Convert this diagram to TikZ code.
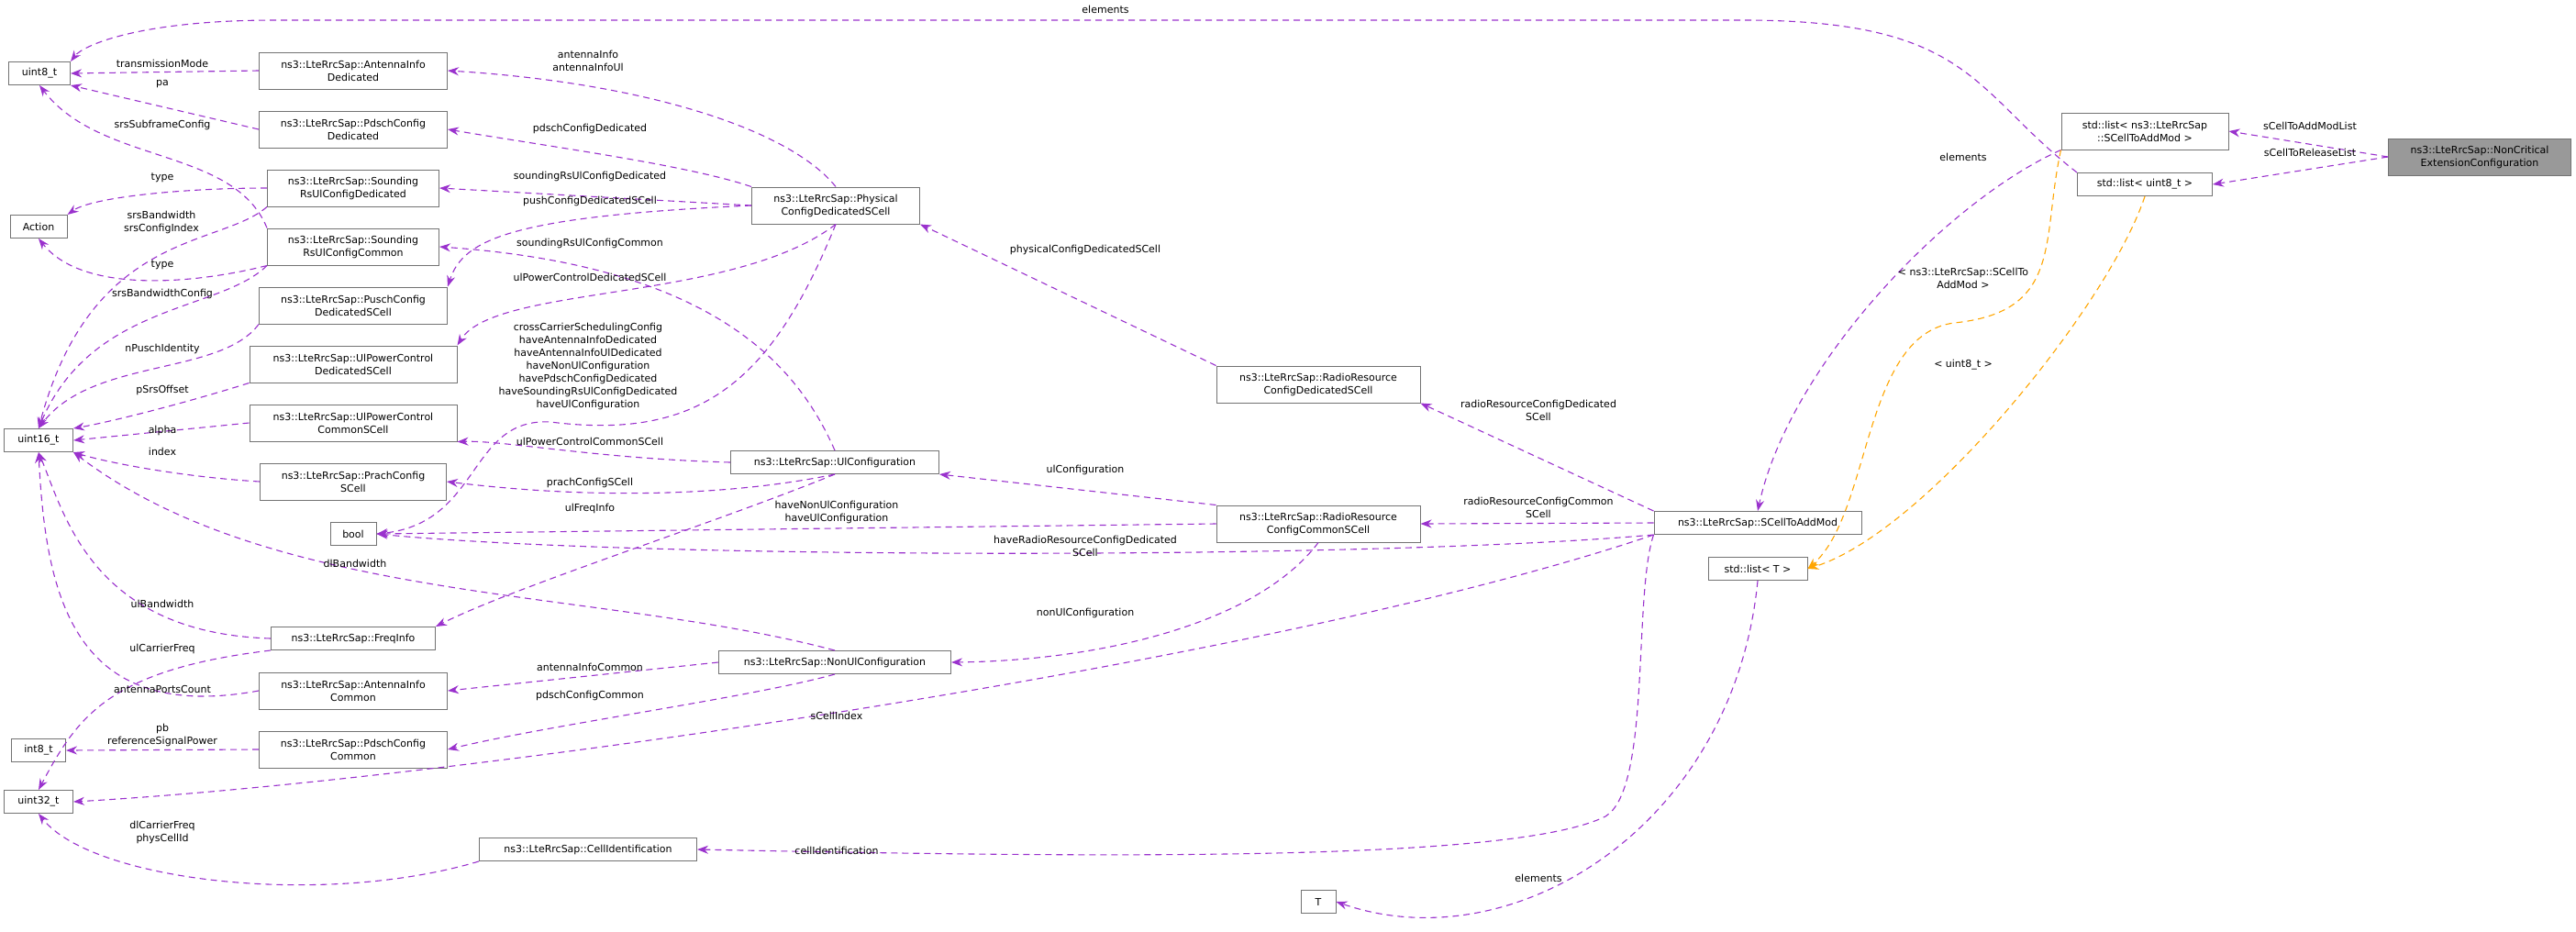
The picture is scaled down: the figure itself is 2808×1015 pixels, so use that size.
\documentclass[tikz,border=0pt]{standalone}
\usepackage{fontspec}
\setmainfont{DejaVu Sans}
\usetikzlibrary{arrows.meta}
\definecolor{ep}{HTML}{9A32CD}
\definecolor{eo}{HTML}{FFA500}
\begin{document}
\begin{tikzpicture}[x=1pt,y=-1pt,
  every node/.style={font=\fontsize{11}{14}\selectfont, inner sep=1pt},
  box/.style={draw=black!55, line width=1pt, fill=white, minimum height=25pt, align=center, inner sep=2pt},
  box2/.style={box, minimum height=40pt},
  e/.style={draw=ep, line width=1.1pt, dash pattern=on 7pt off 5pt, -{Stealth[length=12pt,width=9pt]}},
  eor/.style={e, draw=eo},
  lbl/.style={align=center}]
\useasboundingbox (0,0) rectangle (2808,1015);
% nodes
\node[box, minimum width=67] (u8) at (43,80) {uint8\_t};
\node[box, minimum width=62] (act) at (42,247) {Action};
\node[box, minimum width=75] (u16) at (42,480) {uint16\_t};
\node[box, minimum width=59] (i8) at (42,818) {int8\_t};
\node[box, minimum width=75] (u32) at (42,874) {uint32\_t};
\node[box2, minimum width=205] (aid) at (385,77) {ns3::LteRrcSap::AntennaInfo\\Dedicated};
\node[box2, minimum width=205] (pdd) at (385,141) {ns3::LteRrcSap::PdschConfig\\Dedicated};
\node[box2, minimum width=187] (srd) at (385,205) {ns3::LteRrcSap::Sounding\\RsUlConfigDedicated};
\node[box2, minimum width=187] (src) at (385,269) {ns3::LteRrcSap::Sounding\\RsUlConfigCommon};
\node[box2, minimum width=205] (pud) at (385,333) {ns3::LteRrcSap::PuschConfig\\DedicatedSCell};
\node[box2, minimum width=226] (upd) at (385,397) {ns3::LteRrcSap::UlPowerControl\\DedicatedSCell};
\node[box2, minimum width=226] (upc) at (385,461) {ns3::LteRrcSap::UlPowerControl\\CommonSCell};
\node[box2, minimum width=203] (pra) at (385,525) {ns3::LteRrcSap::PrachConfig\\SCell};
\node[box, minimum width=50] (bool) at (385,582) {bool};
\node[box, minimum width=179] (fi) at (385,696) {ns3::LteRrcSap::FreqInfo};
\node[box2, minimum width=205] (aic) at (385,753) {ns3::LteRrcSap::AntennaInfo\\Common};
\node[box2, minimum width=205] (pdc) at (385,817) {ns3::LteRrcSap::PdschConfig\\Common};
\node[box, minimum width=237] (ci) at (641,926) {ns3::LteRrcSap::CellIdentification};
\node[box2, minimum width=183] (phy) at (911,224) {ns3::LteRrcSap::Physical\\ConfigDedicatedSCell};
\node[box, minimum width=227] (ulc) at (910,504) {ns3::LteRrcSap::UlConfiguration};
\node[box, minimum width=253] (nul) at (910,722) {ns3::LteRrcSap::NonUlConfiguration};
\node[box2, minimum width=222] (rrd) at (1437,419) {ns3::LteRrcSap::RadioResource\\ConfigDedicatedSCell};
\node[box2, minimum width=222] (rrc) at (1437,571) {ns3::LteRrcSap::RadioResource\\ConfigCommonSCell};
\node[box, minimum width=226] (sc) at (1916,570) {ns3::LteRrcSap::SCellToAddMod};
\node[box, minimum width=108] (lt) at (1916,620) {std::list< T >};
\node[box, minimum width=38] (t) at (1437,983) {T};
\node[box2, minimum width=182] (lsc) at (2338,143) {std::list< ns3::LteRrcSap\\::SCellToAddMod >};
\node[box, minimum width=147] (lu8) at (2338,201) {std::list< uint8\_t >};
\node[box2, minimum width=199, fill=black!40] (nc) at (2703,171) {ns3::LteRrcSap::NonCritical\\ExtensionConfiguration};
% edges
\draw[e] (phy.north) .. controls (860,140) and (700,90) .. (aid.east);
\draw[e] (phy.north west) .. controls (750,180) and (600,160) .. (pdd.east);
\draw[e] (phy.west) -- (srd.east);
\draw[e] (phy.west) .. controls (560,236) and (505,260) .. (pud.north east);
\draw[e] (phy.south) .. controls (800,330) and (540,310) .. (upd.north east);
\draw[e] (phy.south) .. controls (840,420) and (760,480) .. (600,460) .. controls (510,455) and (525,570) .. (bool.east);
\draw[e] (ulc.north) .. controls (870,400) and (780,290) .. (src.east);
\draw[e] (ulc.west) .. controls (650,500) and (550,480) .. (upc.south east);
\draw[e] (ulc.south) .. controls (800,540) and (650,545) .. (pra.east);
\draw[e] (ulc.south) .. controls (780,570) and (560,640) .. (fi.north east);
\draw[e] (aid.west) -- (u8.east);
\draw[e] (pdd.west) -- (u8.south east);
\draw[e] (src.north west) .. controls (255,160) and (110,180) .. (u8.south);
\draw[e] (srd.west) .. controls (200,205) and (100,215) .. (act.north east);
\draw[e] (srd.south west) .. controls (240,270) and (100,250) .. (u16.north);
\draw[e] (src.south west) .. controls (210,310) and (90,320) .. (act.south);
\draw[e] (src.south west) .. controls (240,340) and (100,330) .. (u16.north);
\draw[e] (pud.south west) .. controls (240,410) and (100,390) .. (u16.north);
\draw[e] (upd.south west) .. controls (200,440) and (120,460) .. (u16.north east);
\draw[e] (upc.west) -- (u16.east);
\draw[e] (pra.west) .. controls (200,520) and (120,505) .. (u16.south east);
\draw[e] (nul.north) .. controls (650,640) and (300,660) .. (u16.south east);
\draw[e] (fi.west) .. controls (100,690) and (70,560) .. (u16.south);
\draw[e] (fi.south west) .. controls (120,730) and (85,780) .. (u32.north);
\draw[e] (aic.west) .. controls (80,790) and (50,650) .. (u16.south);
\draw[e] (pdc.west) -- (i8.east);
\draw[e] (ci.south west) .. controls (350,990) and (100,960) .. (u32.south);
\draw[e] (nul.west) -- (aic.east);
\draw[e] (nul.south) .. controls (820,760) and (600,790) .. (pdc.east);
\draw[e] (rrd.north west) -- (phy.south east);
\draw[e] (rrc.north west) -- (ulc.south east);
\draw[e] (rrc.west) -- (bool.east);
\draw[e] (rrc.south) .. controls (1370,680) and (1200,720) .. (nul.east);
\draw[e] (sc.north west) -- (rrd.south east);
\draw[e] (sc.west) -- (rrc.east);
\draw[e] (sc.south west) .. controls (1500,610) and (700,610) .. (bool.east);
\draw[e] (sc.south west) .. controls (1400,720) and (500,850) .. (u32.east);
\draw[e] (sc.south west) .. controls (1780,650) and (1800,860) .. (1750,890) .. controls (1650,940) and (1200,935) .. (ci.east);
\draw[e] (lsc.south west) .. controls (2120,220) and (1950,400) .. (sc.north);
\draw[e] (lu8.north west) .. controls (2150,100) and (2150,22) .. (1900,22) -- (300,22) .. controls (150,22) and (90,50) .. (u8.north east);
\draw[e] (lt.south) .. controls (1890,900) and (1650,1050) .. (t.east);
\draw[eor] (lsc.south west) .. controls (2225,260) and (2250,340) .. (2130,352) .. controls (2030,365) and (2040,560) .. (lt.east);
\draw[eor] (lu8.south) .. controls (2300,330) and (2100,580) .. (lt.east);
\draw[e] (nc.west) -- (lsc.east);
\draw[e] (nc.west) -- (lu8.east);
% labels
\node[lbl] at (641,66) {antennaInfo\\antennaInfoUl};
\node[lbl] at (177,69) {transmissionMode};
\node[lbl] at (177,92) {pa};
\node[lbl] at (177,136) {srsSubframeConfig};
\node[lbl] at (643,140) {pdschConfigDedicated};
\node[lbl] at (177,194) {type};
\node[lbl] at (643,192) {soundingRsUlConfigDedicated};
\node[lbl] at (643,219) {pushConfigDedicatedSCell};
\node[lbl] at (176,242) {srsBandwidth\\srsConfigIndex};
\node[lbl] at (643,265) {soundingRsUlConfigCommon};
\node[lbl] at (177,289) {type};
\node[lbl] at (643,302) {ulPowerControlDedicatedSCell};
\node[lbl] at (177,320) {srsBandwidthConfig};
\node[lbl] at (641,399) {crossCarrierSchedulingConfig\\haveAntennaInfoDedicated\\haveAntennaInfoUlDedicated\\haveNonUlConfiguration\\havePdschConfigDedicated\\haveSoundingRsUlConfigDedicated\\haveUlConfiguration};
\node[lbl] at (177,380) {nPuschIdentity};
\node[lbl] at (177,425) {pSrsOffset};
\node[lbl] at (177,469) {alpha};
\node[lbl] at (177,492) {index};
\node[lbl] at (643,481) {ulPowerControlCommonSCell};
\node[lbl] at (643,526) {prachConfigSCell};
\node[lbl] at (643,554) {ulFreqInfo};
\node[lbl] at (912,558) {haveNonUlConfiguration\\haveUlConfiguration};
\node[lbl] at (387,614) {dlBandwidth};
\node[lbl] at (177,658) {ulBandwidth};
\node[lbl] at (177,707) {ulCarrierFreq};
\node[lbl] at (643,727) {antennaInfoCommon};
\node[lbl] at (643,758) {pdschConfigCommon};
\node[lbl] at (177,751) {antennaPortsCount};
\node[lbl] at (912,780) {sCellIndex};
\node[lbl] at (177,801) {pb\\referenceSignalPower};
\node[lbl] at (177,907) {dlCarrierFreq\\physCellId};
\node[lbl] at (912,927) {cellIdentification};
\node[lbl] at (1183,272) {physicalConfigDedicatedSCell};
\node[lbl] at (1677,447) {radioResourceConfigDedicated\\SCell};
\node[lbl] at (1183,512) {ulConfiguration};
\node[lbl] at (1677,553) {radioResourceConfigCommon\\SCell};
\node[lbl] at (1183,595) {haveRadioResourceConfigDedicated\\SCell};
\node[lbl] at (1183,668) {nonUlConfiguration};
\node[lbl] at (1677,957) {elements};
\node[lbl] at (2518,137) {sCellToAddModList};
\node[lbl] at (2518,166) {sCellToReleaseList};
\node[lbl] at (2140,171) {elements};
\node[lbl] at (2140,303) {< ns3::LteRrcSap::SCellTo\\AddMod >};
\node[lbl] at (2140,398) {< uint8\_t >};
\node[lbl] at (1205,10) {elements};
\end{tikzpicture}
\end{document}
